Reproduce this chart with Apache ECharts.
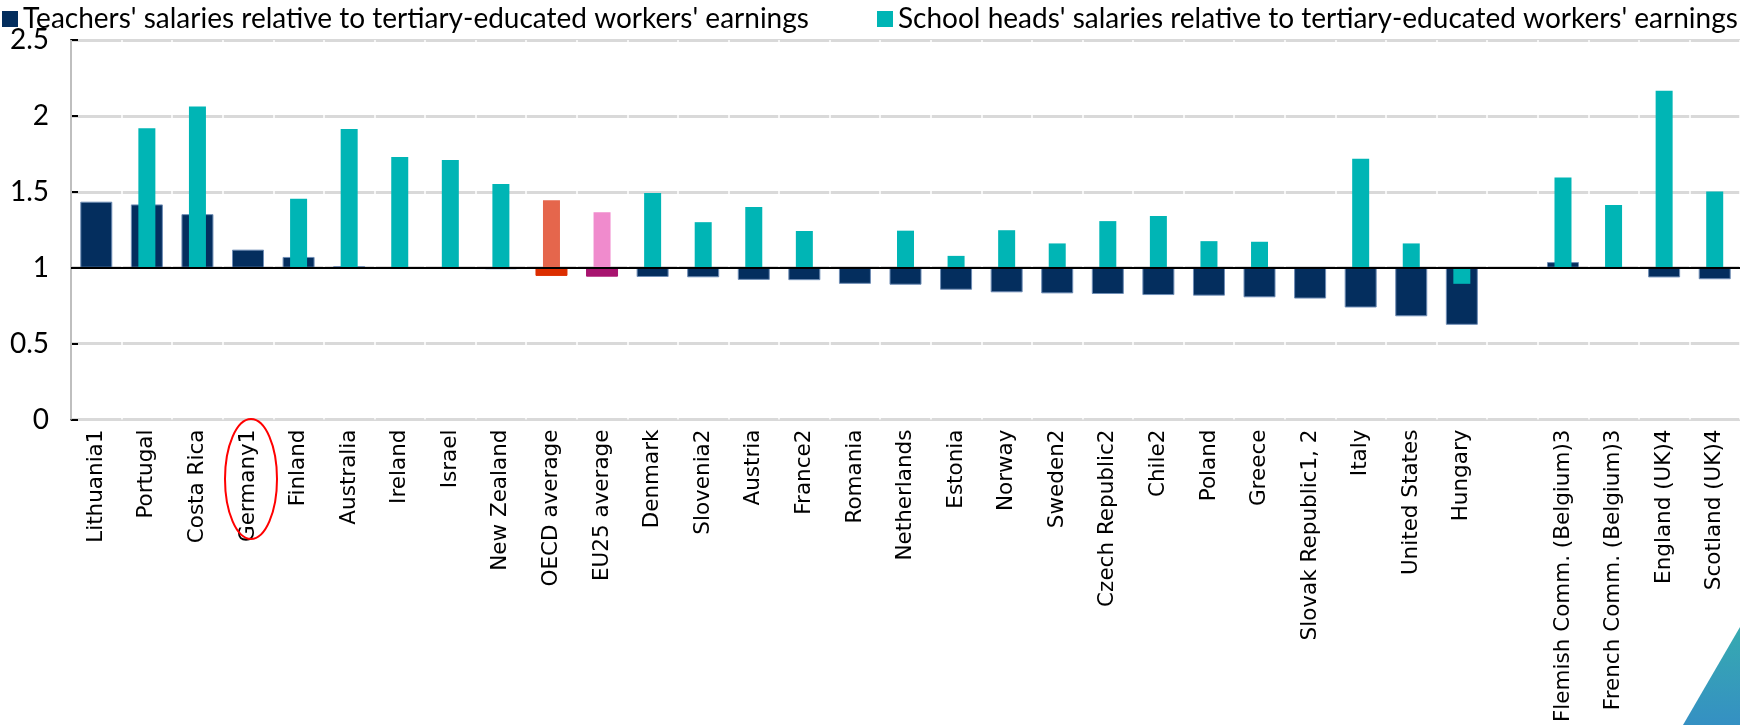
<!DOCTYPE html>
<html>
<head>
<meta charset="utf-8">
<script src="https://cdn.jsdelivr.net/npm/echarts@6/dist/echarts.min.js"></script>
<style>
html,body{margin:0;padding:0;background:#fff;}
#c{width:1740px;height:725px;}
</style>
</head>
<body>
<div id="c"></div>
<script>
// ---- DATA ----
const categories = ['Lithuania1','Portugal','Costa Rica','Germany1','Finland','Australia','Ireland','Israel','New Zealand','OECD average','EU25 average','Denmark','Slovenia2','Austria','France2','Romania','Netherlands','Estonia','Norway','Sweden2','Czech Republic2','Chile2','Poland','Greece','Slovak Republic1, 2','Italy','United States','Hungary','','Flemish Comm. (Belgium)3','French Comm. (Belgium)3','England (UK)4','Scotland (UK)4'];
const teachers = [1.435,1.417,1.353,1.119,1.071,1.01,null,null,0.99,0.946,0.941,0.939,0.937,0.92,0.918,0.894,0.888,0.855,0.838,0.831,0.827,0.82,0.816,0.805,0.797,0.738,0.68,0.624,null,1.037,null,0.936,0.924];
const heads = [null,1.919,2.062,null,1.454,1.913,1.729,1.709,1.551,1.445,1.366,1.493,1.30,1.40,1.242,null,1.244,1.078,1.247,1.16,1.307,1.34,1.175,1.171,null,1.718,1.16,0.894,null,1.595,1.413,2.166,1.502];
const yTicks = [0, 0.5, 1, 1.5, 2, 2.5];
const reference = 1;
const nameT = "Teachers' salaries relative to tertiary-educated workers' earnings";
const nameH = "School heads' salaries relative to tertiary-educated workers' earnings";

// ---- STYLE ----
const NAVY = '#042E5E', TEAL = '#00B5B5';
const special = {
  'OECD average': {t: '#DC2E00', h: '#E5664C'},
  'EU25 average': {t: '#A8146F', h: '#F08BCD'}
};
function base(arr){ return arr.map(v => v == null ? '-' : Math.min(v, reference)); }
function diff(arr, key, def){
  return arr.map((v, i) => {
    if (v == null) return '-';
    const s = special[categories[i]];
    return {value: Math.abs(v - reference), itemStyle: {color: s ? s[key] : def, borderColor: s ? s[key] : (key === 't' ? '#6f8db5' : def)}};
  });
}
const legendCommon = {
  top: 5, padding: 0,
  icon: 'rect', itemWidth: 16, itemHeight: 16, itemGap: 5,
  textStyle: {fontFamily: 'Lato', fontSize: 28, color: '#000'},
  selectedMode: false
};

const chart = echarts.init(document.getElementById('c'), null, {renderer: 'canvas'});
chart.setOption({
  animation: false,
  backgroundColor: '#fff',
  legend: [
    Object.assign({left: 2, data: [nameT]}, legendCommon),
    Object.assign({left: 877, data: [nameH]}, legendCommon)
  ],
  grid: {left: 71, right: -4, top: 40, bottom: 300, containLabel: false},
  xAxis: [{
    type: 'category', data: categories, gridIndex: 0,
    axisLine: {show: false}, axisTick: {show: false},
    splitLine: {show: true, interval: 0, lineStyle: {color: '#fff', width: 1.5}},
    axisLabel: {interval: 0, rotate: 90, margin: 10, fontFamily: 'DejaVu Sans', fontSize: 21.5, color: '#000'},
    z: 3
  },{
    type: 'category', data: categories, gridIndex: 0, show: false
  }],
  yAxis: {
    type: 'value', min: 0, max: 2.5, interval: 0.5,
    axisLine: {show: true, lineStyle: {color: '#000', width: 2}},
    axisTick: {show: true, inside: true, length: 7, lineStyle: {color: '#000', width: 2}},
    splitLine: {show: true, lineStyle: {color: '#d9d9d9', width: 3}},
    axisLabel: {margin: 22, fontFamily: 'Lato', fontSize: 28, color: '#000',
      formatter: v => yTicks.indexOf(v) >= 0 ? String(v) : ''},
    z: 1
  },
  series: [
    {name: 'tBase', type: 'bar', xAxisIndex: 0, stack: 't', barWidth: 32, data: base(teachers),
     itemStyle: {color: 'transparent'}, silent: true},
    {name: nameT, type: 'bar', xAxisIndex: 0, stack: 't', barWidth: 32, data: diff(teachers, 't', NAVY),
     itemStyle: {color: NAVY, borderWidth: 1}},
    {name: 'hBase', type: 'bar', xAxisIndex: 1, stack: 'h', barWidth: 17, data: base(heads),
     itemStyle: {color: 'transparent'}, silent: true},
    {name: nameH, type: 'bar', xAxisIndex: 1, stack: 'h', barWidth: 17, data: diff(heads, 'h', TEAL),
     itemStyle: {color: TEAL, borderWidth: 0},
     markLine: {silent: true, symbol: 'none', label: {show: false},
       lineStyle: {color: '#000', width: 2, type: 'solid'},
       data: [{yAxis: reference}]}}
  ],
  graphic: [
    {type: 'ellipse', shape: {cx: 251, cy: 479, rx: 26, ry: 60},
     style: {fill: 'none', stroke: '#FF0000', lineWidth: 2}, z: 10},
    {type: 'polygon', shape: {points: [[1683, 725], [1740, 627], [1740, 725]]},
     style: {fill: new echarts.graphic.LinearGradient(0, 0, 0, 1, [{offset: 0, color: '#36AAB0'}, {offset: 1, color: '#3590C3'}])}, z: 10}
  ]
});
</script>
</body>
</html>
